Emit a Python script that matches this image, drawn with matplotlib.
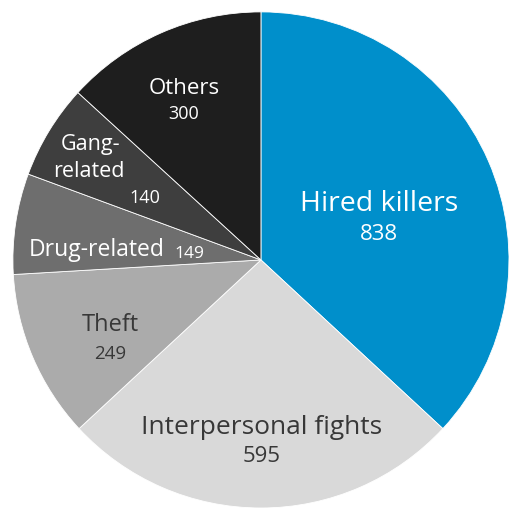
import matplotlib
matplotlib.use("Agg")
import matplotlib.pyplot as plt

categories = ["Hired killers", "Interpersonal fights", "Theft", "Drug-related", "Gang-related", "Others"]
values = [838, 595, 249, 149, 140, 300]
colors = ["#008fcb", "#d9d9d9", "#ababab", "#6e6e6e", "#3e3e3e", "#1e1e1e"]

plt.rcParams['font.family'] = ['Open Sans', 'DejaVu Sans']

fig = plt.figure(figsize=(5.09, 5.08), dpi=100)
ax = fig.add_axes([0, 0, 1, 1])
ax.pie(values, colors=colors, startangle=90, counterclock=False, radius=1.0,
       wedgeprops=dict(edgecolor="white", linewidth=0.6))
ax.set_xlim(-1.052, 1.0)
ax.set_ylim(-1.0, 1.048)
ax.set_aspect('equal')
ax.axis('off')

W, D = "white", "#383838"
# (text, x, y, size, color)
labels = [
    ("Hired killers", 0.476, 0.226, 20.5, W),
    (str(values[0]), 0.476, 0.103, 16, W),
    ("Interpersonal fights", 0.004, -0.677, 19, D),
    (str(values[1]), 0.004, -0.794, 16, D),
    ("Theft", -0.609, -0.262, 17, D),
    (str(values[2]), -0.609, -0.379, 13.5, D),
    ("Drug-related", -0.661, 0.040, 16.5, W),
    (str(values[3]), -0.290, 0.024, 12.5, W),
    ("Gang-", -0.685, 0.464, 15.5, W),
    ("related", -0.694, 0.355, 15.5, W),
    (str(values[4]), -0.468, 0.250, 13, W),
    ("Others", -0.310, 0.690, 16, W),
    (str(values[5]), -0.310, 0.589, 13, W),
]
for t, x, y, s, c in labels:
    ax.text(x, y, t, ha="center", va="center", fontsize=s, color=c)

fig.savefig("out.png", dpi=100)
